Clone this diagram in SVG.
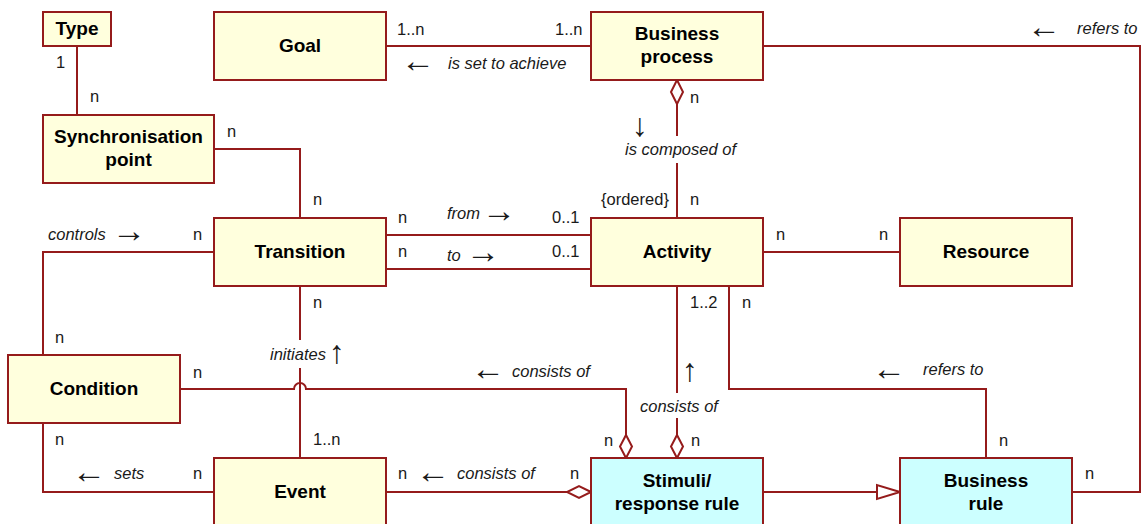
<svg xmlns="http://www.w3.org/2000/svg" width="1144" height="524" viewBox="0 0 1144 524">
<style>
.box{fill:#FFFFDD;stroke:#951B1B;stroke-width:2}
.rule{fill:#CCFFFF;stroke:#951B1B;stroke-width:2}
.ln{fill:none;stroke:#951B1B;stroke-width:2}
.dia{fill:#FFFFFF;stroke:#951B1B;stroke-width:2}
.t{font-family:"Liberation Sans",Arial,sans-serif;font-weight:bold;font-size:19px;fill:#000;text-anchor:middle}
.l{font-family:"Liberation Sans",Arial,sans-serif;font-size:16.5px;fill:#1a1a1a}
.i{font-family:"Liberation Sans",Arial,sans-serif;font-size:16.5px;font-style:italic;fill:#1a1a1a}
.a{font-family:"Liberation Sans",Arial,sans-serif;font-size:34px;fill:#1a1a1a}
.v{font-family:"Liberation Sans",Arial,sans-serif;font-size:32px;fill:#1a1a1a;text-anchor:middle}
</style>
<rect width="1144" height="524" fill="#FFFFFF"/>
<g id="connectors">
  <path class="ln" d="M77 46 V115"/>
  <path class="ln" d="M386 46 H591"/>
  <path class="ln" d="M763 46 H1140 V492 H1072"/>
  <path class="ln" d="M677 104 V136 M677 163 V218"/>
  <polygon class="dia" points="677,80 683,92 677,104 671,92"/>
  <path class="ln" d="M214 149 H300 V218"/>
  <path class="ln" d="M386 235 H591 M386 269 H591"/>
  <path class="ln" d="M763 252 H900"/>
  <path class="ln" d="M214 252 H43 V355"/>
  <path class="ln" d="M300 286 V340 M300 368 V458"/>
  <path class="ln" d="M180 389 H294 A6 6 0 0 1 306 389 H626 V435"/>
  <polygon class="dia" points="626,458 632,446.5 626,435 620,446.5"/>
  <path class="ln" d="M677 286 V393 M677 418 V435"/>
  <polygon class="dia" points="677,458 683,446.5 677,435 671,446.5"/>
  <path class="ln" d="M729 286 V389 H986 V458"/>
  <path class="ln" d="M386 492 H567"/>
  <polygon class="dia" points="591,492 579,486 567,492 579,498"/>
  <path class="ln" d="M763 492 H877"/>
  <polygon class="dia" points="900,492 877,485 877,499"/>
  <path class="ln" d="M43 423 V492 H214"/>
</g>
<g id="labels">
  <text class="l" x="56" y="68">1</text>
  <text class="l" x="90" y="102">n</text>
  <text class="l" x="397" y="35">1..n</text>
  <text class="l" x="555" y="35">1..n</text>
  <text class="a" x="401" y="72">←</text>
  <text class="i" x="448" y="69">is set to achieve</text>
  <text class="a" x="1027" y="38">←</text>
  <text class="i" x="1077" y="34">refers to</text>
  <text class="l" x="690" y="103">n</text>
  <text class="v" x="640" y="136">↓</text>
  <text class="i" x="625" y="155">is composed of</text>
  <text class="l" x="601" y="205">{ordered}</text>
  <text class="l" x="690" y="205">n</text>
  <text class="l" x="227" y="137">n</text>
  <text class="l" x="313" y="205">n</text>
  <text class="i" x="48" y="240">controls</text>
  <text class="a" x="112" y="242">→</text>
  <text class="l" x="193" y="240">n</text>
  <text class="l" x="398" y="223">n</text>
  <text class="i" x="447" y="219">from</text>
  <text class="a" x="482" y="222">→</text>
  <text class="l" x="552" y="223">0..1</text>
  <text class="l" x="398" y="257">n</text>
  <text class="i" x="447" y="261">to</text>
  <text class="a" x="466" y="263">→</text>
  <text class="l" x="552" y="257">0..1</text>
  <text class="l" x="776" y="240">n</text>
  <text class="l" x="879" y="240">n</text>
  <text class="l" x="55" y="343">n</text>
  <text class="l" x="313" y="308">n</text>
  <text class="i" x="270" y="360">initiates</text>
  <text class="v" x="337" y="363">↑</text>
  <text class="l" x="193" y="378">n</text>
  <text class="a" x="471" y="380">←</text>
  <text class="i" x="512" y="377">consists of</text>
  <text class="l" x="690" y="308">1..2</text>
  <text class="l" x="742" y="308">n</text>
  <text class="v" x="690" y="381">↑</text>
  <text class="i" x="640" y="412">consists of</text>
  <text class="a" x="872" y="380">←</text>
  <text class="i" x="923" y="375">refers to</text>
  <text class="l" x="55" y="445">n</text>
  <text class="l" x="313" y="445">1..n</text>
  <text class="a" x="72" y="483">←</text>
  <text class="i" x="114" y="479">sets</text>
  <text class="l" x="193" y="479">n</text>
  <text class="l" x="398" y="479">n</text>
  <text class="a" x="416" y="483">←</text>
  <text class="i" x="457" y="479">consists of</text>
  <text class="l" x="570" y="479">n</text>
  <text class="l" x="604" y="446">n</text>
  <text class="l" x="691" y="446">n</text>
  <text class="l" x="999" y="446">n</text>
  <text class="l" x="1085" y="479">n</text>
</g>
<g id="type"><rect class="box" x="43" y="12" width="68" height="34"/><text class="t" x="77" y="35">Type</text></g>
<g id="goal"><rect class="box" x="214" y="12" width="172" height="68"/><text class="t" x="300" y="52">Goal</text></g>
<g id="business-process"><rect class="box" x="591" y="12" width="172" height="68"/><text class="t" x="677" y="40">Business</text><text class="t" x="677" y="63">process</text></g>
<g id="synchronisation-point"><rect class="box" x="43" y="115" width="171" height="68"/><text class="t" x="128.5" y="143">Synchronisation</text><text class="t" x="128.5" y="166">point</text></g>
<g id="transition"><rect class="box" x="214" y="218" width="172" height="68"/><text class="t" x="300" y="258">Transition</text></g>
<g id="activity"><rect class="box" x="591" y="218" width="172" height="68"/><text class="t" x="677" y="258">Activity</text></g>
<g id="resource"><rect class="box" x="900" y="218" width="172" height="68"/><text class="t" x="986" y="258">Resource</text></g>
<g id="condition"><rect class="box" x="8" y="355" width="172" height="68"/><text class="t" x="94" y="395">Condition</text></g>
<g id="event"><rect class="box" x="214" y="458" width="172" height="68"/><text class="t" x="300" y="498">Event</text></g>
<g id="stimuli-response-rule"><rect class="rule" x="591" y="458" width="172" height="68"/><text class="t" x="677" y="487">Stimuli/</text><text class="t" x="677" y="510">response rule</text></g>
<g id="business-rule"><rect class="rule" x="900" y="458" width="172" height="68"/><text class="t" x="986" y="487">Business</text><text class="t" x="986" y="510">rule</text></g>
</svg>
